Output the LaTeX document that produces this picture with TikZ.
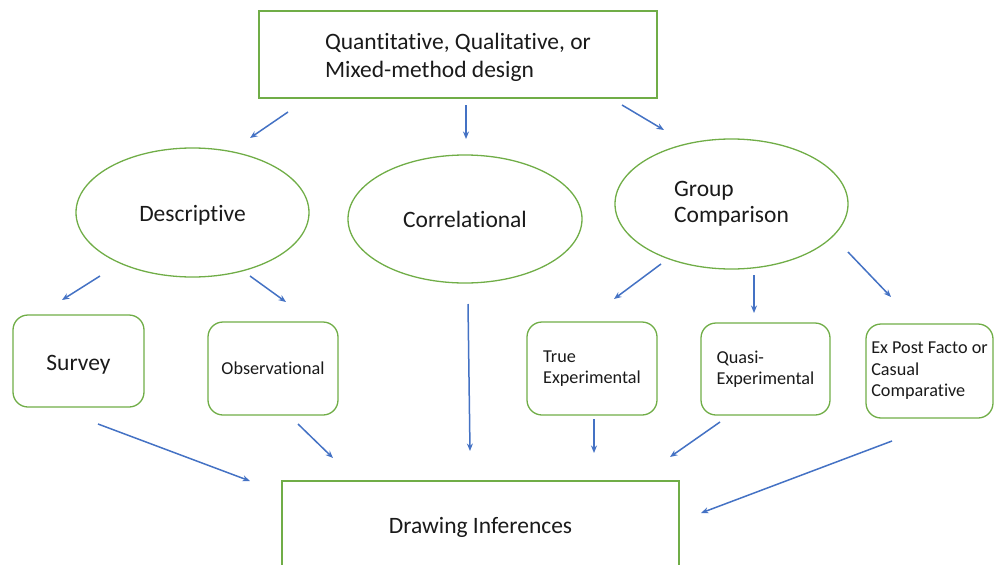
\documentclass[tikz,border=0pt]{standalone}
\usepackage{fontspec}
\setmainfont{Carlito}[Ligatures=NoCommon]
\usetikzlibrary{arrows.meta,shapes.geometric}
\definecolor{grn}{HTML}{70AD47}
\definecolor{blu}{HTML}{4472C4}
\definecolor{txt}{HTML}{1A1A1A}
\newcommand{\dn}[2]{\raisebox{-#1}[\height][\depth]{#2}}
\begin{document}
\begin{tikzpicture}[x=1pt,y=-1pt,
 box/.style={draw=grn,line width=1.4pt,inner sep=0pt,align=left,text=txt},
 oval/.style={ellipse,draw=grn,line width=1.3pt,inner sep=0pt,align=left,text=txt},
 rbox/.style={draw=grn,line width=1.3pt,rounded corners=15pt,inner sep=0pt,align=left,text=txt},
 arr/.style={draw=blu,line width=1.5pt,-{Stealth[length=7.5pt,width=6pt]}},
 big/.style={font=\fontsize{23.5}{28}\selectfont},
 small/.style={font=\fontsize{18.2}{21.5}\selectfont}]
\useasboundingbox (0,0) rectangle (994,565);
\clip (0,0) rectangle (994,565);

\node[box,big,minimum width=398pt,minimum height=87pt] (top) at (458,54.5) {\dn{3pt}{\begin{tabular}{@{}l@{}}Quantitative, Qualitative, or\\Mixed-method design\end{tabular}}};

\node[oval,big,minimum width=233pt,minimum height=129pt] (desc) at (192.5,212.5) {\dn{3pt}{Descriptive}};
\node[oval,big,minimum width=234pt,minimum height=128pt] (corr) at (465,219) {Correlational};
\node[oval,big,minimum width=233pt,minimum height=130pt,font=\fontsize{23.5}{26}\selectfont] (grp) at (731.5,204) {Group\\Comparison};

\node[rbox,big,minimum width=131pt,minimum height=92pt] (survey) at (78.5,361) {\dn{4pt}{Survey}};
\node[rbox,small,minimum width=130pt,minimum height=93pt] (obs) at (273,368.5) {Observational};
\node[rbox,small,minimum width=130pt,minimum height=93pt] (true) at (592,368.5) {True\\Experimental};
\node[rbox,small,minimum width=129pt,minimum height=92pt] (quasi) at (765.5,369) {Quasi-\\Experimental};
\node[rbox,small,minimum width=127pt,minimum height=94pt] (expost) at (929.5,371) {Ex Post Facto or\\Casual\\Comparative};

\node[box,big,minimum width=397pt,minimum height=92pt] (infer) at (480.5,527) {Drawing Inferences};

% connector end points
\coordinate (a1s) at (288,112); \coordinate (a1e) at (250,138);
\coordinate (a2s) at (466,105); \coordinate (a2e) at (466,139);
\coordinate (a3s) at (622,105); \coordinate (a3e) at (664,130);
\coordinate (b1s) at (100,276); \coordinate (b1e) at (62,300);
\coordinate (b2s) at (250,276); \coordinate (b2e) at (286,302);
\coordinate (c1s) at (661,264); \coordinate (c1e) at (614,299);
\coordinate (c2s) at (754,275); \coordinate (c2e) at (754,313);
\coordinate (c3s) at (848,252); \coordinate (c3e) at (891,297);
\coordinate (d1s) at (98,424);  \coordinate (d1e) at (250,481);
\coordinate (d2s) at (298,424); \coordinate (d2e) at (333,458);
\coordinate (d3s) at (468,304); \coordinate (d3e) at (470,451);
\coordinate (d4s) at (594,419); \coordinate (d4e) at (594,453);
\coordinate (d5s) at (720,422); \coordinate (d5e) at (670,457);
\coordinate (d6s) at (892,441); \coordinate (d6e) at (701,513);

\foreach \a in {a1,a2,a3,b1,b2,c1,c2,c3,d1,d2,d3,d4,d5,d6}
  \draw[arr] (\a s) -- (\a e);
\end{tikzpicture}
\end{document}
